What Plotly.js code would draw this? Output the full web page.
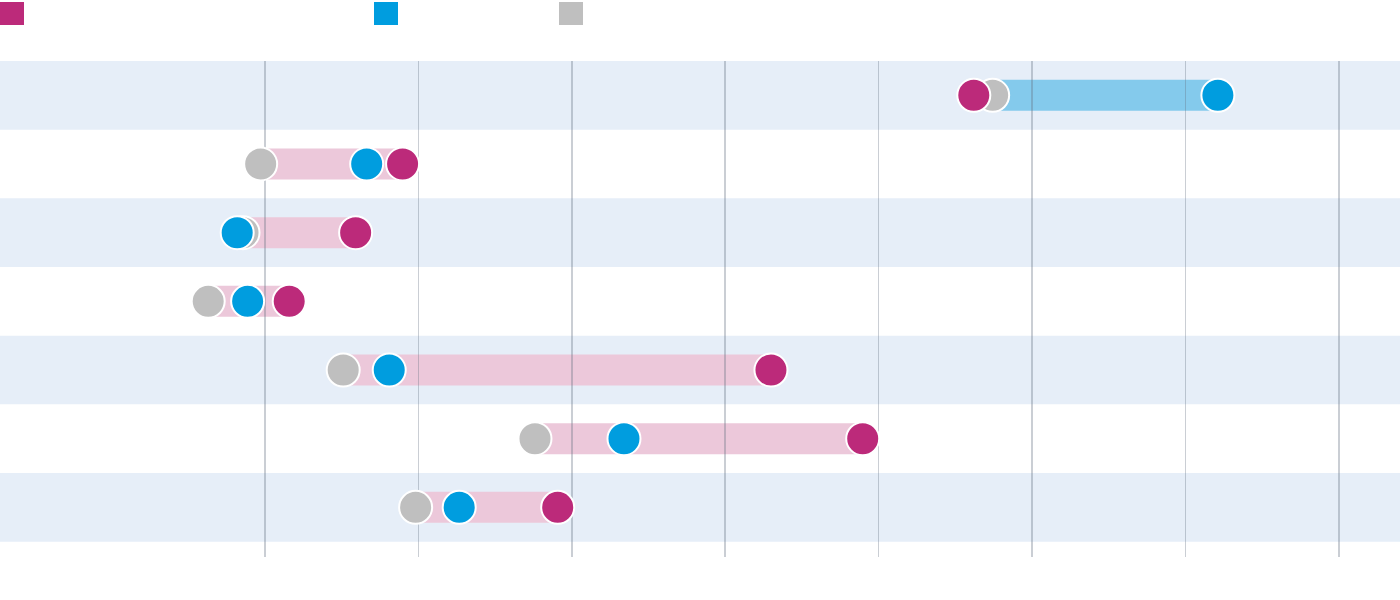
<!DOCTYPE html>
<html>
<head>
<meta charset="utf-8">
<script src="https://cdn.plot.ly/plotly-3.0.1.min.js"></script>
<style>html,body{margin:0;padding:0;background:#fff;}#chart{width:1400px;height:600px;}</style>
</head>
<body>
<div id="chart"></div>
<script>
// Rows (top to bottom)
const rows = [0, 1, 2, 3, 4, 5, 6];
// Series values (x-axis units; gridlines every 10)
const magentaVals = [46.2, 8.97, 5.91, 1.58, 32.98, 38.96, 19.08];
const blueVals    = [62.11, 6.63, -1.81, -1.13, 8.10, 23.40, 12.66];
const grayVals    = [47.43, -0.28, -1.43, -3.70, 5.10, 17.60, 9.82];
const gridTicks   = [0, 10, 20, 30, 40, 50, 60, 70];

const MAGENTA = '#bc2a7a';
const BLUE = '#009ddf';
const GRAY = '#bfbfbf';
const BAND = '#e6eef8';
const PINK_BAR = '#ecc8da';
const BLUE_BAR = '#84caec';

const shapes = [];
// alternating row bands
rows.filter(r => r % 2 === 0).forEach(r => {
  shapes.push({type: 'rect', xref: 'paper', yref: 'y', x0: 0, x1: 1, y0: r - 0.5, y1: r + 0.5,
    fillcolor: BAND, line: {width: 0}, layer: 'below'});
});
// connecting bars (below gridlines): from gray to the farther of magenta/blue
const barHalf = 0.226;
rows.forEach((r, i) => {
  const dm = Math.abs(magentaVals[i] - grayVals[i]);
  const db = Math.abs(blueVals[i] - grayVals[i]);
  const useBlue = db > dm;
  const end = useBlue ? blueVals[i] : magentaVals[i];
  shapes.push({type: 'rect', xref: 'x', yref: 'y', x0: grayVals[i], x1: end,
    y0: r - barHalf, y1: r + barHalf, fillcolor: useBlue ? BLUE_BAR : PINK_BAR,
    line: {width: 0}, layer: 'below'});
});
// legend swatches
const PW = 1400, plotTop = 61, plotBottom = 557, PH = plotBottom - plotTop;
const py = p => (plotBottom - p) / PH;
[[0, MAGENTA], [374, BLUE], [559, GRAY]].forEach(([px, c]) => {
  shapes.push({type: 'rect', xref: 'paper', yref: 'paper', x0: px / PW, x1: (px + 24) / PW,
    y0: py(25), y1: py(2), fillcolor: c, line: {width: 0}});
});

const mk = (vals, color) => ({
  type: 'scatter', mode: 'markers', x: vals, y: rows,
  marker: {color: color, size: 33, line: {color: '#ffffff', width: 2}},
  showlegend: false
});
const traces = [mk(grayVals, GRAY), mk(blueVals, BLUE), mk(magentaVals, MAGENTA)];

const layout = {
  width: 1400, height: 600,
  margin: {l: 0, r: 0, t: 61, b: 43, pad: 0},
  paper_bgcolor: '#ffffff', plot_bgcolor: '#ffffff',
  showlegend: false,
  xaxis: {range: [-17.27, 73.98], tickvals: gridTicks, showticklabels: false, ticks: '',
    showgrid: true, gridcolor: 'rgba(100,110,130,0.34)', gridwidth: 1.5, zeroline: false, showline: false, fixedrange: true},
  yaxis: {range: [6.723, -0.5], showticklabels: false, ticks: '', showgrid: false,
    zeroline: false, showline: false, fixedrange: true},
  shapes: shapes
};
Plotly.newPlot('chart', traces, layout, {displayModeBar: false, staticPlot: true});
</script>
</body>
</html>
